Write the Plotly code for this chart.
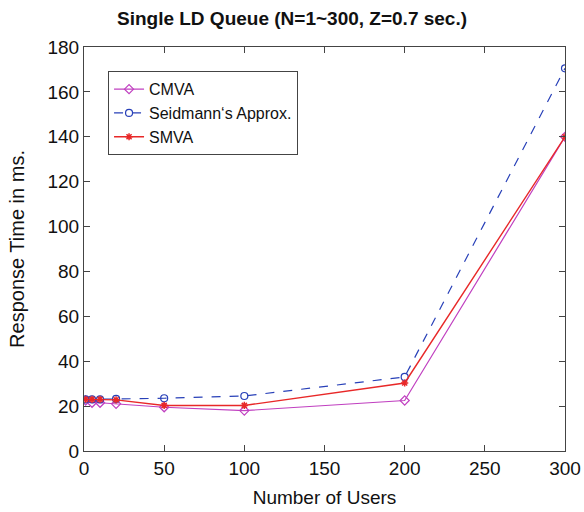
import plotly.graph_objects as go

users = [1, 5, 10, 20, 50, 100, 200, 300]
cmva = [22.5, 21.5, 21.5, 21.0, 19.5, 18.0, 22.5, 140.0]
seidmann = [23.0, 23.0, 23.0, 23.2, 23.5, 24.5, 33.0, 170.5]
smva = [23.0, 23.0, 23.0, 22.8, 20.3, 20.3, 30.3, 140.0]

x_ticks = [0, 50, 100, 150, 200, 250, 300]
y_ticks = [0, 20, 40, 60, 80, 100, 120, 140, 160, 180]

FONT = "Liberation Sans, Arial, sans-serif"

fig = go.Figure()
fig.add_trace(go.Scatter(
    x=users, y=cmva, name="CMVA", mode="lines+markers",
    line=dict(color="#c040c0", width=1.2),
    marker=dict(symbol="diamond-open", size=7, color="#c040c0", line=dict(width=1.2)),
))
fig.add_trace(go.Scatter(
    x=users, y=seidmann, name="Seidmann‘s Approx.", mode="lines+markers",
    line=dict(color="#2840b8", width=1.2, dash="dash"),
    marker=dict(symbol="circle-open", size=7, color="#2840b8", line=dict(width=1.2)),
))
fig.add_trace(go.Scatter(
    x=users, y=smva, name="SMVA", mode="lines+markers",
    line=dict(color="#e82828", width=1.4),
    marker=dict(symbol="asterisk-open", size=6, color="#e82828", line=dict(width=1.5, color="#e82828")),
))

axis_common = dict(
    showgrid=False, zeroline=False, showline=True, linecolor="#444", linewidth=1,
    mirror="ticks", ticks="inside", ticklen=6, tickcolor="#444", automargin=False,
    tickfont=dict(size=19, color="#111", family=FONT),
)

fig.update_layout(
    width=584, height=512,
    paper_bgcolor="white", plot_bgcolor="white",
    margin=dict(l=84, r=19, t=47, b=61),
    title=dict(
        text="<b>Single LD Queue (N=1~300, Z=0.7 sec.)</b>",
        x=0.5, xanchor="center", y=0.965, yanchor="middle",
        font=dict(size=19, color="#111", family=FONT),
    ),
    xaxis=dict(
        range=[0, 300], tickvals=x_ticks,
        title=dict(text="Number of Users", standoff=12,
                   font=dict(size=19, color="#111", family=FONT)),
        **axis_common,
    ),
    yaxis=dict(
        range=[0, 180], tickvals=y_ticks,
        title=dict(text="Response Time in ms.", standoff=17,
                   font=dict(size=20, color="#111", family=FONT)),
        **axis_common,
    ),
    legend=dict(
        x=0.05, y=0.94, xanchor="left", yanchor="top",
        bgcolor="white", bordercolor="#444", borderwidth=1,
        font=dict(size=16, color="#111", family=FONT),
        tracegroupgap=0, itemwidth=30,
    ),
    showlegend=True,
)

fig.write_html(
    "out.html",
    config={"displayModeBar": False},
    post_script="document.body.style.margin='0';document.body.style.padding='0';",
)
